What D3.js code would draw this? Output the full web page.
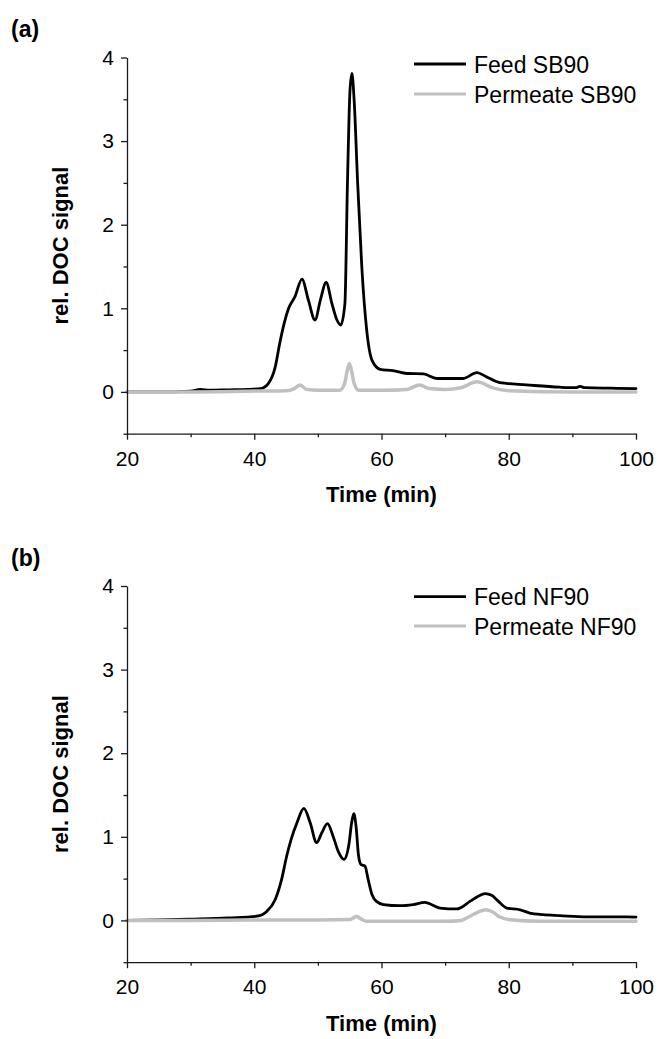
<!DOCTYPE html>
<html>
<head>
<meta charset="utf-8">
<script src="https://cdn.jsdelivr.net/npm/d3@7"></script>
<style>
  html, body { margin: 0; padding: 0; background: #fff; }
  svg { display: block; }
  text { font-family: "Liberation Sans", Arial, sans-serif; fill: #000; }
</style>
</head>
<body>
<svg id="chart" width="659" height="1039"></svg>
<script>
// ---------------- DATA ----------------
const xMajorTicks = [20, 40, 60, 80, 100];
const xMinorTicks = [30, 50, 70, 90];
const yMajorTicks = [0, 1, 2, 3, 4];
const yMinorTicks = [-0.5, 0.5, 1.5, 2.5, 3.5];

const panelLabels = ["(a)", "(b)"];
const xTitle = "Time (min)";
const yTitle = "rel. DOC signal";
const legendA = ["Feed SB90", "Permeate SB90"];
const legendB = ["Feed NF90", "Permeate NF90"];

// Panel (a): Feed SB90
const timeFeedSB90 = [20, 25, 30, 31.5, 33, 36, 39, 41, 42.2, 43.3, 44.0, 44.7, 45.4, 46.4, 47.5, 48.5, 49.55, 50.4, 51.3, 52.2, 53.0, 53.6, 54.25, 54.65, 55.05, 55.35, 55.7, 56.25, 56.9, 57.7, 58.5, 59.8, 61.8, 64, 66.6, 68.7, 72.8, 75.0, 76.5, 78.6, 82.8, 88, 90.5, 91.2, 92, 96, 100];
const valFeedSB90  = [0, 0, 0.01, 0.03, 0.02, 0.025, 0.03, 0.04, 0.10, 0.30, 0.58, 0.82, 1.00, 1.14, 1.35, 1.10, 0.86, 1.10, 1.31, 1.06, 0.86, 0.80, 1.06, 2.50, 3.61, 3.81, 3.49, 2.50, 1.50, 0.72, 0.38, 0.27, 0.255, 0.22, 0.215, 0.16, 0.16, 0.23, 0.18, 0.11, 0.084, 0.056, 0.05, 0.065, 0.05, 0.044, 0.04];

// Panel (a): Permeate SB90
const timePermSB90 = [20, 30, 40, 45, 46.3, 47.2, 48.2, 50, 53.4, 54.2, 54.6, 54.95, 55.3, 55.7, 56.4, 60, 64, 66.0, 67.5, 70, 72.5, 75.0, 77.6, 80, 90, 100];
const valPermSB90  = [0, 0, 0.01, 0.015, 0.04, 0.084, 0.03, 0.02, 0.02, 0.10, 0.25, 0.34, 0.25, 0.10, 0.02, 0.02, 0.03, 0.084, 0.04, 0.03, 0.05, 0.12, 0.045, 0.015, 0.0, 0.0];

// Panel (b): Feed NF90
const timeFeedNF90 = [20, 25, 30, 36, 40.4, 42, 43.3, 44.3, 45.1, 45.8, 46.7, 47.8, 48.8, 49.8, 50.6, 51.5, 52.4, 53.2, 54.1, 54.9, 55.3, 55.65, 56.0, 56.4, 56.8, 57.4, 57.9, 58.5, 59.2, 60.3, 62.9, 65.0, 66.8, 69.2, 71.8, 73.9, 75.2, 76.3, 77.3, 78.1, 79.7, 81.8, 83.3, 85.4, 88, 92.3, 96, 100];
const valFeedNF90  = [0, 0.005, 0.015, 0.03, 0.05, 0.11, 0.25, 0.49, 0.77, 0.97, 1.165, 1.34, 1.165, 0.93, 1.045, 1.157, 1.005, 0.825, 0.73, 0.92, 1.165, 1.276, 1.125, 0.77, 0.666, 0.65, 0.49, 0.31, 0.227, 0.19, 0.176, 0.19, 0.215, 0.148, 0.137, 0.227, 0.29, 0.32, 0.30, 0.248, 0.148, 0.127, 0.088, 0.068, 0.057, 0.042, 0.042, 0.04];

// Panel (b): Permeate NF90
const timePermNF90 = [20, 30, 40, 50, 55, 55.6, 56.1, 56.6, 57.6, 60, 65, 70, 72.5, 73.9, 75.2, 76.4, 77.5, 78.6, 80.2, 85, 90, 100];
const valPermNF90  = [0, 0, 0.005, 0.005, 0.01, 0.03, 0.05, 0.025, -0.01, -0.01, -0.01, -0.01, 0.0, 0.05, 0.1, 0.128, 0.1, 0.04, 0.008, -0.01, -0.01, -0.01];

// ---------------- DRAW ----------------
const svg = d3.select("#chart");
const FEED_COLOR = "#000000";
const PERM_COLOR = "#c0c0c0";
const AXIS_COLOR = "#1a1a1a";

const x = d3.scaleLinear().domain([20, 100]).range([127, 636]);

const panels = [
  { label: panelLabels[0], top: 57.5, bottom: 433.7, labelY: 37,
    legend: legendA, legendY: [64, 94],
    series: [
      { t: timeFeedSB90, v: valFeedSB90, color: FEED_COLOR, width: 2.8 },
      { t: timePermSB90, v: valPermSB90, color: PERM_COLOR, width: 3.5 }
    ] },
  { label: panelLabels[1], top: 586.0, bottom: 962.2, labelY: 565.5,
    legend: legendB, legendY: [596.7, 626],
    series: [
      { t: timeFeedNF90, v: valFeedNF90, color: FEED_COLOR, width: 2.8 },
      { t: timePermNF90, v: valPermNF90, color: PERM_COLOR, width: 3.5 }
    ] }
];

panels.forEach(p => {
  const y = d3.scaleLinear().domain([-0.5, 4]).range([p.bottom, p.top]);
  const g = svg.append("g");

  // lines
  const line = d3.line()
    .x(d => x(d[0]))
    .y(d => y(d[1]))
    .curve(d3.curveMonotoneX);
  p.series.forEach(s => {
    const pts = s.t.map((t, i) => [t, s.v[i]]);
    g.append("path")
      .datum(pts)
      .attr("d", line)
      .attr("fill", "none")
      .attr("stroke", s.color)
      .attr("stroke-width", s.width)
      .attr("stroke-linejoin", "round")
      .attr("stroke-linecap", "round");
  });

  // y axis major
  g.append("g").attr("transform", `translate(${x(20)},0)`)
    .call(d3.axisLeft(y).tickValues(yMajorTicks).tickSize(6).tickSizeOuter(0).tickPadding(7).tickFormat(d3.format("d")));
  // y axis minor
  g.append("g").attr("transform", `translate(${x(20)},0)`)
    .call(d3.axisLeft(y).tickValues(yMinorTicks).tickSize(3.5).tickSizeOuter(0).tickFormat(""))
    .select(".domain").remove();

  // x axis major
  g.append("g").attr("transform", `translate(0,${p.bottom})`)
    .call(d3.axisBottom(x).tickValues(xMajorTicks).tickSize(6).tickSizeOuter(0).tickPadding(11).tickFormat(d3.format("d")));
  // x axis minor
  g.append("g").attr("transform", `translate(0,${p.bottom})`)
    .call(d3.axisBottom(x).tickValues(xMinorTicks).tickSize(3.5).tickSizeOuter(0).tickFormat(""))
    .select(".domain").remove();

  g.selectAll(".domain, .tick line")
    .attr("stroke", AXIS_COLOR)
    .attr("stroke-width", 1.3);
  g.selectAll(".tick text")
    .attr("font-family", '"Liberation Sans", Arial, sans-serif')
    .attr("font-size", 21)
    .attr("fill", "#000");

  // axis titles
  g.append("text")
    .attr("x", (x(20) + x(100)) / 2)
    .attr("y", p.bottom + 68.5)
    .attr("text-anchor", "middle")
    .attr("font-size", 22)
    .attr("font-weight", "bold")
    .text(xTitle);

  g.append("text")
    .attr("transform", `translate(68,${(p.top + p.bottom) / 2}) rotate(-90)`)
    .attr("text-anchor", "middle")
    .attr("font-size", 22)
    .attr("font-weight", "bold")
    .text(yTitle);

  // panel label
  g.append("text")
    .attr("x", 11)
    .attr("y", p.labelY)
    .attr("font-size", 23)
    .attr("font-weight", "bold")
    .text(p.label);

  // legend
  p.legend.forEach((name, i) => {
    const s = p.series[i];
    const ly = p.legendY[i];
    g.append("line")
      .attr("x1", 414).attr("x2", 466)
      .attr("y1", ly).attr("y2", ly)
      .attr("stroke", s.color)
      .attr("stroke-width", i === 0 ? 2.8 : 3.2);
    g.append("text")
      .attr("x", 474)
      .attr("y", ly + 8.5)
      .attr("font-size", 23)
      .text(name);
  });
});
</script>
</body>
</html>
